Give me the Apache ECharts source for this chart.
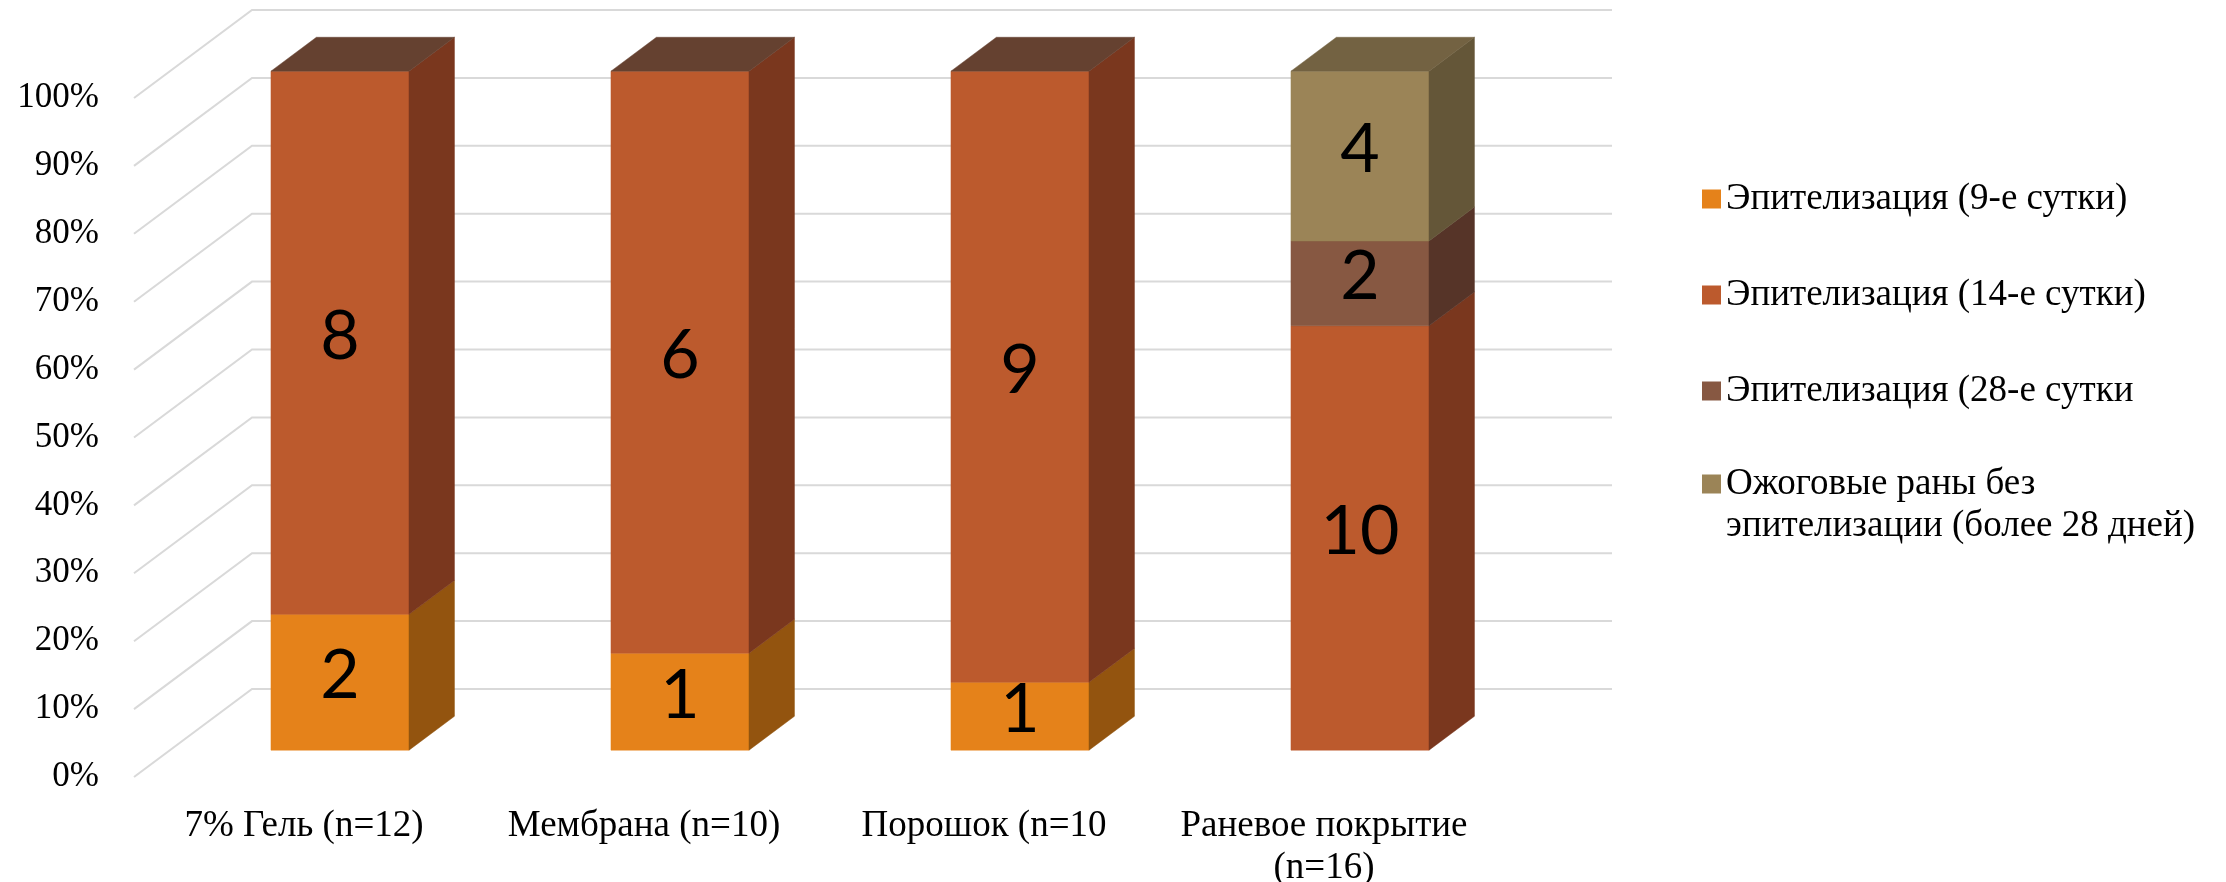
<!DOCTYPE html>
<html>
<head>
<meta charset="utf-8">
<title>Сроки эпителизации ожоговых ран</title>
<script src="https://cdn.jsdelivr.net/npm/echarts@6.0.0/dist/echarts.min.js"></script>
<style>
  html, body { margin: 0; padding: 0; background: #ffffff; }
  #chart { width: 2226px; height: 882px; }
</style>
</head>
<body>
<div id="chart"></div>
<script>
// Groups and counts of healed wounds per period
const categories = ['7% Гель (n=12)', 'Мембрана (n=10)', 'Порошок (n=10', 'Раневое покрытие\n(n=16)'];
const seriesNames = [
  'Эпителизация (9-е сутки)',
  'Эпителизация (14-е сутки)',
  'Эпителизация (28-е сутки',
  'Ожоговые раны без\nэпителизации (более 28 дней)'
];
const day9 = [2, 1, 1, 0];
const day14 = [8, 6, 9, 10];
const day28 = [0, 0, 0, 2];
const unhealed = [0, 0, 0, 4];
const percentTicks = [0, 10, 20, 30, 40, 50, 60, 70, 80, 90, 100];

// Face colours: front, right side, top
const frontColors = ['#E5821A', '#BC5A2D', '#875842', '#9B8457'];
const sideColors = ['#93540F', '#7A371E', '#563428', '#645638'];
const topColors = ['#8A5A1E', '#654130', '#4F3226', '#736242'];

const counts = [day9, day14, day28, unhealed];

// Oblique projection of the depth axis
const DEPTH_X = 118;
const DEPTH_Y = -88;
const BAR_FRONT = 0.305;
const BAR_BACK = 0.69;
const BAR_FRACTION = 0.406;

const FONT_SERIF = "'Liberation Serif', 'Times New Roman', serif";
const FONT_LABEL = "Lato, 'Open Sans', sans-serif";

const totals = categories.map((_, i) => counts.reduce((acc, arr) => acc + arr[i], 0));

// 100%-stacked segments: [category, start %, end %, count]
function stackedData(k) {
  return categories.map((_, i) => {
    let before = 0;
    for (let j = 0; j < k; j++) before += counts[j][i];
    const start = before / totals[i] * 100;
    const end = (before + counts[k][i]) / totals[i] * 100;
    return [i, start, end, counts[k][i]];
  });
}

// Side-wall diagonal plus back-wall line for one percentage tick
function renderWall(params, api) {
  const v = api.value(0);
  const sys = params.coordSys;
  const y = api.coord([0, v])[1];
  const x0 = sys.x;
  const x1 = sys.x + sys.width;
  return {
    type: 'polyline',
    shape: { points: [[x0, y], [x0 + DEPTH_X, y + DEPTH_Y], [x1 + DEPTH_X, y + DEPTH_Y]] },
    style: { stroke: '#D9D9D9', lineWidth: 2, fill: null }
  };
}

// One stacked box segment: front face, right face, lid on the topmost one, count label
function makeBarRenderer(k) {
  return function (params, api) {
    const i = api.value(0);
    const start = api.value(1);
    const end = api.value(2);
    const n = api.value(3);
    if (!n) return null;
    const band = api.size([1, 0])[0];
    const w = band * BAR_FRACTION;
    const p0 = api.coord([i, start]);
    const p1 = api.coord([i, end]);
    const fx = DEPTH_X * BAR_FRONT, fy = DEPTH_Y * BAR_FRONT;
    const dx = DEPTH_X * (BAR_BACK - BAR_FRONT), dy = DEPTH_Y * (BAR_BACK - BAR_FRONT);
    const xl = p0[0] - w / 2 + fx;
    const xr = p0[0] + w / 2 + fx;
    const yb = p0[1] + fy;
    const yt = p1[1] + fy;
    const children = [
      {
        type: 'rect',
        shape: { x: xl, y: yt, width: xr - xl, height: yb - yt },
        style: { fill: frontColors[k], stroke: frontColors[k], lineWidth: 0.5 }
      },
      {
        type: 'polygon',
        shape: { points: [[xr, yb], [xr + dx, yb + dy], [xr + dx, yt + dy], [xr, yt]] },
        style: { fill: sideColors[k], stroke: sideColors[k], lineWidth: 0.5 }
      }
    ];
    if (end >= 99.999) {
      children.push({
        type: 'polygon',
        shape: { points: [[xl, yt], [xr, yt], [xr + dx, yt + dy], [xl + dx, yt + dy]] },
        style: { fill: topColors[k], stroke: topColors[k], lineWidth: 0.5 }
      });
    }
    children.push({
      type: 'text',
      x: (xl + xr) / 2,
      y: (yt + yb) / 2 - 6,
      style: {
        text: String(n),
        fontFamily: FONT_LABEL,
        fontSize: 68,
        fill: '#000000',
        align: 'center',
        verticalAlign: 'middle'
      }
    });
    return { type: 'group', children: children };
  };
}

const chart = echarts.init(document.getElementById('chart'), null, { renderer: 'canvas' });

const legendCommon = {
  orient: 'vertical',
  left: 1702,
  padding: 0,
  icon: 'rect',
  itemWidth: 19,
  itemHeight: 19,
  itemGap: 54,
  textStyle: { fontFamily: FONT_SERIF, fontSize: 37, lineHeight: 42, color: '#000000' }
};

const option = {
  backgroundColor: '#ffffff',
  animation: false,
  textStyle: { fontFamily: FONT_SERIF },
  legend: [
    Object.assign({}, legendCommon, { top: 178, data: seriesNames.slice(0, 3) }),
    // the two-line entry keeps its swatch level with its first line
    Object.assign({}, legendCommon, {
      top: 421,
      data: [seriesNames[3]],
      formatter: name => '\n' + name
    })
  ],
  grid: {
    left: 134, right: 732, top: 98, bottom: 105,
    containLabel: false,
    outerBoundsMode: 'none'
  },
  xAxis: {
    type: 'category',
    data: categories,
    axisLine: { show: false },
    axisTick: { show: false },
    splitLine: { show: false },
    axisLabel: {
      interval: 0,
      margin: 28,
      fontFamily: FONT_SERIF,
      fontSize: 37,
      lineHeight: 42,
      color: '#000000'
    }
  },
  yAxis: {
    type: 'value',
    min: 0,
    max: 100,
    interval: 10,
    axisLine: { show: false },
    axisTick: { show: false },
    splitLine: { show: false },
    axisLabel: {
      margin: 35,
      padding: [14, 0, 0, 0],
      formatter: '{value}%',
      fontFamily: FONT_SERIF,
      fontSize: 35,
      color: '#000000'
    }
  },
  series: [
    {
      type: 'custom',
      name: 'walls',
      silent: true,
      z: 1,
      renderItem: renderWall,
      data: percentTicks.map(t => [t]),
      encode: { y: 0 }
    }
  ].concat(seriesNames.map((name, k) => ({
    type: 'custom',
    name: name,
    z: 2,
    itemStyle: { color: frontColors[k] },
    renderItem: makeBarRenderer(k),
    data: stackedData(k),
    encode: { x: 0, y: [1, 2] }
  })))
};

chart.setOption(option);
</script>
</body>
</html>
